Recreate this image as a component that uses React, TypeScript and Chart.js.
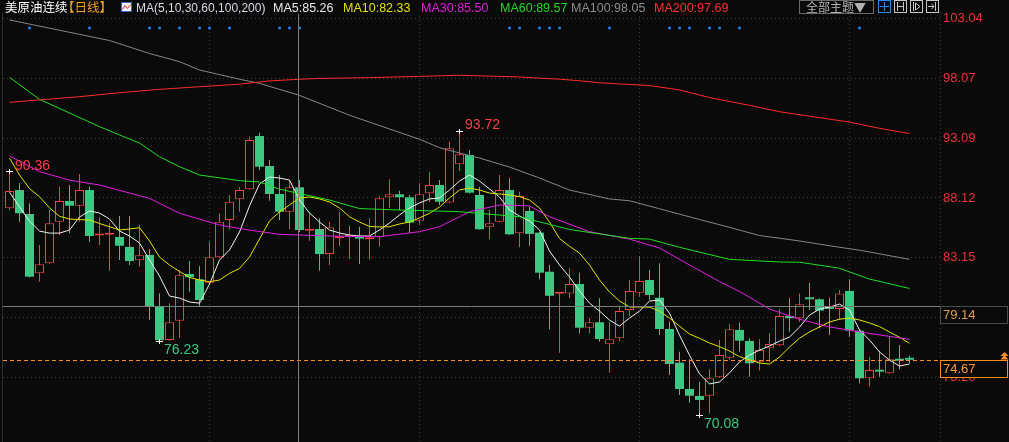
import React, { useEffect, useRef } from "react";
import { Chart, registerables } from "chart.js";

Chart.register(...registerables);

// ---- candle data (daily) ----
const opens = [
  87.26, 88.78, 86.79, 81.86, 82.69, 86.15, 87.87, 87.48, 88.78, 85.0,
  85.07, 84.88, 84.05, 82.94, 83.38, 79.08, 76.31, 77.92, 81.8, 81.36,
  81.08, 83.19, 86.29, 88.01, 88.84, 93.27, 90.78, 88.45, 86.98, 89.01,
  85.4, 85.54, 83.46, 84.77, 84.9, 84.9, 84.69, 84.9, 88.18, 88.43,
  88.18, 86.23, 88.51, 89.2, 87.75, 90.92, 91.69, 88.37, 85.73, 86.15,
  88.78, 85.18, 87.04, 85.24, 81.99, 80.15, 80.19, 80.97, 77.34, 77.79,
  75.96, 76.46, 78.81, 80.25, 81.3, 79.83, 77.23, 74.43, 72.24, 71.66,
  71.68, 73.21, 74.84, 77.15, 76.23, 74.51, 75.62, 75.87, 78.31, 78.12,
  79.83, 79.7, 78.98, 78.9, 80.39, 77.09, 73.13, 73.76, 73.55, 74.73,
  74.75,
];
const highs = [
  90.36, 89.34, 87.68, 84.21, 87.12, 89.06, 89.2, 90.11, 89.06, 86.51,
  86.07, 86.62, 86.62, 85.88, 83.86, 80.2, 79.37, 82.13, 82.88, 82.47,
  84.49, 86.85, 88.37, 89.01, 93.21, 93.55, 91.28, 90.03, 89.61, 89.61,
  86.98, 86.43, 86.15, 86.98, 85.79, 85.73, 86.43, 88.28, 89.67, 88.73,
  88.37, 89.34, 90.31, 89.61, 92.8, 93.72, 92.11, 89.06, 87.12, 90.03,
  89.75, 88.64, 87.39, 85.3, 82.55, 80.25, 82.27, 81.91, 78.12, 79.78,
  77.84, 79.08, 81.3, 83.3, 82.13, 82.69, 77.84, 75.34, 74.72, 72.85,
  73.88, 76.31, 77.64, 77.75, 76.46, 76.37, 76.87, 78.89, 79.78, 80.19,
  81.08, 79.78, 79.81, 80.47, 81.36, 77.2, 74.93, 75.42, 76.65, 75.9,
  75.0,
];
const lows = [
  87.1, 86.15, 81.5, 81.16, 82.63, 85.04, 85.18, 86.15, 84.49, 84.21,
  82.08, 82.96, 82.55, 82.41, 77.98, 76.23, 76.25, 76.51, 80.33, 79.14,
  80.95, 83.1, 85.52, 86.98, 88.8, 90.45, 87.89, 86.29, 85.52, 85.3,
  84.57, 82.08, 82.55, 84.13, 83.02, 82.63, 83.02, 84.07, 87.26, 87.12,
  85.24, 85.88, 87.81, 87.54, 87.7, 90.36, 88.5, 85.5, 84.69, 86.1,
  85.05, 84.02, 84.13, 81.36, 77.21, 75.26, 79.78, 76.87, 76.87, 76.17,
  73.6, 76.23, 78.31, 79.91, 79.64, 76.73, 73.41, 71.74, 71.1, 70.08,
  70.21, 73.15, 74.67, 75.34, 73.27, 73.77, 74.51, 75.8, 77.0, 77.84,
  78.81, 77.29, 76.73, 77.98, 76.59, 72.72, 72.44, 73.27, 73.5, 73.88,
  74.4,
];
const closes = [
  88.7, 86.85, 81.58, 82.61, 86.02, 87.87, 87.48, 88.78, 84.96, 85.13,
  85.21, 84.15, 82.88, 83.36, 79.14, 76.3, 77.79, 81.69, 81.53, 79.64,
  83.19, 86.15, 87.81, 88.78, 92.94, 90.72, 88.45, 86.98, 89.01, 85.46,
  85.54, 83.46, 85.68, 84.9, 85.02, 84.74, 84.85, 88.09, 88.43, 88.18,
  86.07, 88.43, 89.2, 87.81, 92.25, 91.75, 88.56, 85.52, 86.02, 88.78,
  85.1, 88.28, 85.13, 81.91, 79.99, 80.22, 80.97, 77.34, 77.79, 76.4,
  76.37, 78.73, 80.39, 81.22, 80.06, 77.23, 74.32, 72.24, 71.68, 71.33,
  73.13, 75.07, 77.2, 76.26, 74.38, 75.48, 75.98, 78.31, 78.12, 79.29,
  79.7, 78.76, 78.9, 80.19, 77.09, 73.13, 73.82, 73.68, 74.71, 74.59,
  74.67,
];

// ---- moving averages ----
const ma5 = [
  88.6, 87.39, 86.2, 85.37, 85.2, 85.2, 85.46, 86.54, 87.04, 86.87,
  86.37, 85.37, 84.96, 84.38, 82.96, 81.63, 79.97, 79.8, 79.47, 79.38,
  80.96, 82.96, 83.8, 85.29, 87.46, 89.28, 89.86, 89.78, 89.61, 87.95,
  86.87, 86.12, 85.46, 85.21, 85.04, 84.96, 84.96, 85.46, 86.04, 86.71,
  87.29, 87.71, 88.04, 88.12, 88.78, 89.53, 90.03, 89.53, 88.87, 88.2,
  87.12, 86.62, 86.21, 85.46, 83.71, 82.55, 81.55, 80.39, 79.38, 78.72,
  77.97, 77.47, 78.14, 78.72, 79.55, 79.64, 78.55, 76.72, 75.05, 73.5,
  72.66, 72.83, 73.58, 74.49, 75.05, 75.48, 75.81, 76.22, 76.56, 77.39,
  78.39, 78.88, 79.05, 79.3, 78.8, 77.15, 76.31, 75.32, 74.65, 74.15,
  74.32,
];
const ma10 = [
  91.44, 90.03, 88.9, 88.23, 87.3, 86.6, 86.37, 86.32, 86.29, 86.0,
  85.73, 85.46, 85.54, 85.65, 84.55, 83.21, 82.55, 82.01, 81.51, 81.3,
  81.16, 81.3, 81.86, 82.26, 83.21, 84.71, 86.21, 86.96, 87.54, 88.12,
  88.2, 88.04, 87.79, 87.29, 86.56, 86.12, 85.75, 85.71, 85.73, 85.96,
  86.12, 86.46, 86.85, 87.37, 88.12, 88.78, 88.95, 88.78, 88.53, 88.45,
  88.37, 88.23, 87.95, 87.29, 86.12, 84.75, 84.1, 83.54, 82.55, 81.3,
  80.31, 79.56, 79.06, 79.06, 79.04, 78.72, 78.14, 77.47, 76.81, 76.46,
  76.07, 75.76, 75.4, 74.93, 74.67, 74.4, 74.32, 74.9, 75.73, 76.46,
  76.98, 77.4, 77.81, 78.04, 78.14, 77.98, 77.73, 77.43, 76.98, 76.54,
  76.04,
];
const ma30Idx = [0, 3, 6, 9, 14, 17, 21, 24, 27, 32, 37, 41, 43, 45, 46, 49, 52, 54, 58, 62, 65, 68, 71, 73, 76, 79, 82, 86, 90];
const ma30Val = [91.61, 90.31, 89.6, 89.2, 88.09, 86.85, 85.88, 85.45, 85.1, 84.96, 84.9, 85.32, 85.73, 86.56, 86.98, 87.54, 87.46, 86.56, 85.32, 84.7, 83.96, 82.55, 81.18, 80.35, 78.89, 78.04, 77.4, 76.86, 76.37];
const ma60Idx = [0, 3, 9, 11, 13, 15, 17, 19, 23, 25, 27, 32, 35, 39, 45, 51, 56, 62, 64, 67, 72, 77, 79, 82, 83, 86, 90];
const ma60Val = [98.15, 96.32, 94.05, 93.36, 92.69, 91.55, 90.72, 90.03, 89.56, 89.45, 88.85, 87.95, 87.24, 87.12, 86.98, 86.56, 85.5, 84.77, 84.7, 84.02, 83.02, 82.8, 82.78, 82.41, 82.28, 81.38, 80.6];
const ma100Idx = [0, 10, 14, 17, 19, 23, 25, 29, 34, 41, 43, 45, 47, 50, 53, 56, 60, 62, 65, 69, 72, 75, 79, 82, 85, 90];
const ma100Val = [102.92, 101.21, 100.13, 99.45, 98.76, 97.99, 97.65, 96.65, 95.0, 93.0, 92.3, 91.86, 91.44, 90.69, 89.78, 88.78, 88.04, 87.89, 87.22, 86.33, 85.68, 85.0, 84.55, 84.15, 83.78, 83.02];
const ma200Idx = [0, 3, 7, 11, 15, 19, 23, 26, 29, 31, 36, 41, 45, 51, 53, 55, 57, 59, 61, 64, 67, 70, 74, 77, 80, 84, 87, 90];
const ma200Val = [96.07, 96.27, 96.54, 96.87, 97.15, 97.37, 97.58, 97.85, 97.99, 98.06, 98.12, 98.23, 98.32, 98.18, 98.08, 98.0, 97.86, 97.7, 97.6, 97.47, 97.1, 96.47, 95.82, 95.29, 94.92, 94.43, 93.91, 93.48];

// ---- axis / markers ----
const yTicks = [103.04, 98.07, 93.09, 88.12, 83.15, 78.18, 73.2];
const monthStartIdx = [20, 41, 63, 84];
const eventIdx = [2, 8, 14, 15, 17, 19, 20, 22, 27, 28, 29, 50, 51, 53, 54, 55, 60, 66, 67, 68, 70, 71, 73, 85];
const eventLevel = 102.25;
const highMarkIdx = [0, 45];
const lowMarkIdx = [15, 69];
const lastPrice = 74.67;
const cursorPrice = 79.14;
const cursorIdx = 28.9;
const headerItems = [
  { t: "美原油连续", c: "#ffffff", x: 5, f: "cjk" },
  { t: "【日线】", c: "#f0a028", x: 62, f: "cjk" },
  { t: "MA(5,10,30,60,100,200)", c: "#d6dbe6", x: 136, f: "small" },
  { t: "MA5:85.26", c: "#e8e8e8", x: 273, f: "latin" },
  { t: "MA10:82.33", c: "#e2e200", x: 343, f: "latin" },
  { t: "MA30:85.50", c: "#e01ee0", x: 421, f: "latin" },
  { t: "MA60:89.57", c: "#22d822", x: 500, f: "latin" },
  { t: "MA100:98.05", c: "#8c8c8c", x: 571, f: "latin" },
  { t: "MA200:97.69", c: "#ff3030", x: 654, f: "latin" },
];

const BG = "#0a0a0a";
const UP = "#ff3c48";
const DOWN = "#3cc882";
const GRID = "#3a3a3a";
const FONT = '"Liberation Sans", Arial, "Noto Sans CJK SC", sans-serif';
const CJK = '"Noto Sans CJK SC", "Liberation Sans", sans-serif';

const overlay = {
  id: "overlay",
  beforeDraw(chart: any) {
    const { ctx, width, height } = chart;
    ctx.save();
    ctx.fillStyle = BG;
    ctx.fillRect(0, 0, width, height);
    ctx.restore();
  },
  afterDatasetsDraw(chart: any) {
    const { ctx, chartArea: a, scales } = chart;
    const x = scales.x;
    const y = scales.y;
    ctx.save();
    ctx.strokeStyle = "#2e2e2e";
    ctx.lineWidth = 1;
    ctx.beginPath();
    ctx.moveTo(2.5, a.top);
    ctx.lineTo(2.5, a.bottom);
    ctx.stroke();
    ctx.setLineDash([1, 3]);
    ctx.strokeStyle = GRID;
    ctx.beginPath();
    ctx.moveTo(940.5, a.top);
    ctx.lineTo(940.5, a.bottom);
    ctx.stroke();
    const yl = Math.round(y.getPixelForValue(lastPrice)) + 0.5;
    ctx.setLineDash([4, 3]);
    ctx.strokeStyle = "#ff8c1a";
    ctx.beginPath();
    ctx.moveTo(a.left, yl);
    ctx.lineTo(a.right, yl);
    ctx.stroke();
    ctx.setLineDash([]);
    ctx.strokeStyle = "#7c7c7c";
    const cx = Math.round(x.getPixelForValue(cursorIdx)) + 0.5;
    const cy = Math.round(y.getPixelForValue(cursorPrice)) + 0.5;
    ctx.beginPath();
    ctx.moveTo(cx, 14);
    ctx.lineTo(cx, a.bottom);
    ctx.moveTo(a.left, cy);
    ctx.lineTo(a.right, cy);
    ctx.stroke();
    ctx.font = "14px " + FONT;
    const cross = (px: number, py: number) => {
      const xx = Math.floor(px) + 0.5;
      const yy = Math.round(py) + 0.5;
      ctx.strokeStyle = "#ffffff";
      ctx.beginPath();
      ctx.moveTo(xx - 3.5, yy);
      ctx.lineTo(xx + 3.5, yy);
      ctx.moveTo(xx, yy - 2.5);
      ctx.lineTo(xx, yy + 2.5);
      ctx.stroke();
    };
    ctx.textBaseline = "alphabetic";
    ctx.textAlign = "left";
    highMarkIdx.forEach((i) => {
      const px = x.getPixelForValue(i);
      const py = y.getPixelForValue(highs[i]);
      cross(px, py);
      ctx.fillStyle = UP;
      ctx.fillText(highs[i].toFixed(2), px + 5.5, py - 1.5);
    });
    lowMarkIdx.forEach((i) => {
      const px = x.getPixelForValue(i);
      const py = y.getPixelForValue(lows[i]);
      cross(px, py);
      ctx.fillStyle = DOWN;
      ctx.fillText(lows[i].toFixed(2), px + 4.5, py + 13);
    });
    ctx.restore();
  },
  afterDraw(chart: any) {
    const { ctx, scales } = chart;
    const y = scales.y;
    ctx.save();
    const box = (v: number, border: string, color: string) => {
      const yy = Math.round(y.getPixelForValue(v));
      ctx.fillStyle = BG;
      ctx.fillRect(940, yy, 69, 18);
      ctx.strokeStyle = border;
      ctx.lineWidth = 1;
      ctx.strokeRect(940.5, yy + 0.5, 67, 17);
      ctx.fillStyle = color;
      ctx.font = "13px " + FONT;
      ctx.textBaseline = "middle";
      ctx.textAlign = "left";
      ctx.fillText(v.toFixed(2), 943, yy + 9.5);
      return yy;
    };
    box(cursorPrice, "#4a4a4a", "#e09a50");
    const yl = box(lastPrice, "#ff9020", "#ff9a2a");
    ctx.fillStyle = "#ff9020";
    ctx.beginPath();
    ctx.moveTo(1004.5, yl - 8);
    ctx.lineTo(1000.5, yl - 4);
    ctx.lineTo(1008.5, yl - 4);
    ctx.closePath();
    ctx.moveTo(1004.5, yl - 5);
    ctx.lineTo(1000.5, yl - 0.5);
    ctx.lineTo(1008.5, yl - 0.5);
    ctx.closePath();
    ctx.fill();

    ctx.fillStyle = BG;
    ctx.fillRect(0, 0, 940, 13);
    ctx.textBaseline = "alphabetic";
    ctx.textAlign = "left";
    headerItems.forEach((h) => {
      ctx.font = h.f === "cjk" ? "12.5px " + CJK : h.f === "small" ? "12px " + FONT : "12.5px " + FONT;
      ctx.fillStyle = h.c;
      ctx.fillText(h.t, h.x, 12);
    });
    ctx.fillStyle = "#f4f4f8";
    ctx.fillRect(121, 2, 11, 10);
    ctx.strokeStyle = "#3a60c8";
    ctx.strokeRect(121.5, 2.5, 10, 9);
    ctx.strokeStyle = "#e02828";
    ctx.beginPath();
    ctx.moveTo(122.5, 9.5);
    ctx.lineTo(125, 5.5);
    ctx.lineTo(127.5, 8.5);
    ctx.lineTo(130.5, 4.5);
    ctx.stroke();
    ctx.strokeStyle = "#6a6a6a";
    ctx.strokeRect(799.5, 0.5, 74, 13);
    ctx.fillStyle = "#b4b4b4";
    ctx.font = "12px " + CJK;
    ctx.fillText("全部主题▼", 806, 11.5);
    const icons = [878, 894, 910, 926];
    icons.forEach((ix, k) => {
      ctx.strokeStyle = k === 0 ? "#2f8be0" : "#c8c8c8";
      ctx.strokeRect(ix + 0.5, 0.5, 12, 12);
      ctx.beginPath();
      if (k === 0) {
        ctx.moveTo(ix + 6.5, 2);
        ctx.lineTo(ix + 6.5, 11);
        ctx.moveTo(ix + 2, 6.5);
        ctx.lineTo(ix + 11, 6.5);
      } else if (k === 1) {
        ctx.moveTo(ix + 3.5, 2);
        ctx.lineTo(ix + 3.5, 11);
        ctx.moveTo(ix + 9.5, 2);
        ctx.lineTo(ix + 9.5, 11);
        ctx.moveTo(ix + 3.5, 6.5);
        ctx.lineTo(ix + 9.5, 6.5);
      } else if (k === 2) {
        ctx.moveTo(ix + 3.5, 2);
        ctx.lineTo(ix + 3.5, 11);
        ctx.moveTo(ix + 5.5, 3);
        ctx.lineTo(ix + 10, 6.5);
        ctx.lineTo(ix + 5.5, 10);
        ctx.closePath();
      } else {
        ctx.moveTo(ix + 9.5, 2);
        ctx.lineTo(ix + 9.5, 11);
        ctx.moveTo(ix + 2, 6.5);
        ctx.lineTo(ix + 8, 6.5);
        ctx.moveTo(ix + 5.5, 4);
        ctx.lineTo(ix + 8, 6.5);
        ctx.lineTo(ix + 5.5, 9);
      }
      ctx.stroke();
    });
    ctx.restore();
  },
};

export default function App() {
  const ref = useRef<HTMLCanvasElement>(null);
  useEffect(() => {
    document.body.style.margin = "0";
    document.body.style.background = BG;
    const canvas = ref.current as HTMLCanvasElement;
    const idx = opens.map((_, i) => i);
    const up = idx.map((i) => closes[i] >= opens[i]);
    const line = (label: string, xs: number[], vs: number[], color: string) => ({
      type: "line",
      label,
      data: vs.map((v, k) => ({ x: xs[k], y: v })),
      borderColor: color,
      borderWidth: 1,
      pointRadius: 0,
      fill: false,
      tension: 0,
      order: 1,
    });
    const chart = new Chart(canvas, {
      type: "bar",
      data: {
        datasets: [
          {
            type: "bar",
            label: "wick",
            data: idx.map((i) => ({ x: i, y: [lows[i], highs[i]] })),
            backgroundColor: idx.map((i) => (up[i] ? UP : DOWN)),
            borderWidth: 0,
            barThickness: 1,
            grouped: false,
            inflateAmount: 0,
            order: 5,
          },
          {
            type: "bar",
            label: "body",
            data: idx.map((i) => ({ x: i, y: [opens[i], closes[i]] })),
            backgroundColor: idx.map((i) => (up[i] ? BG : DOWN)),
            borderColor: idx.map((i) => (up[i] ? UP : DOWN)),
            borderWidth: idx.map((i) => (up[i] ? 1 : 0)),
            borderSkipped: false,
            barThickness: 9,
            minBarLength: 2,
            grouped: false,
            inflateAmount: 0,
            order: 4,
          },
          line("MA200", ma200Idx, ma200Val, "#ff2a2a"),
          line("MA100", ma100Idx, ma100Val, "#868686"),
          line("MA60", ma60Idx, ma60Val, "#22dd22"),
          line("MA30", ma30Idx, ma30Val, "#e41ee4"),
          line("MA10", idx, ma10, "#e6e600"),
          line("MA5", idx, ma5, "#f2f2f2"),
          {
            type: "line",
            label: "events",
            data: eventIdx.map((i) => ({ x: i, y: eventLevel })),
            showLine: false,
            pointRadius: 1.6,
            pointBorderWidth: 0,
            pointBackgroundColor: "#1f7fe0",
            order: 0,
          },
        ] as any,
      },
      options: {
        responsive: false,
        animation: false,
        events: [],
        layout: { padding: { left: 3, top: 12, right: 0, bottom: 0 }, autoPadding: false },
        plugins: { legend: { display: false }, tooltip: { enabled: false } },
        scales: {
          x: {
            type: "linear",
            position: "bottom",
            min: -0.65,
            max: 93.05,
            offset: false,
            bounds: "data",
            afterBuildTicks: (s: any) => {
              s.ticks = monthStartIdx.map((v) => ({ value: v }));
            },
            afterFit: (s: any) => {
              s.height = 0;
              s.paddingLeft = 0;
              s.paddingRight = 0;
            },
            ticks: { display: false },
            grid: { color: GRID, drawTicks: false, offset: false, lineWidth: 1 },
            border: { display: false, dash: [1, 3] },
          },
          y: {
            type: "linear",
            position: "right",
            min: 67.836,
            max: 103.58,
            bounds: "data",
            afterBuildTicks: (s: any) => {
              s.ticks = yTicks.map((v) => ({ value: v }));
            },
            afterFit: (s: any) => {
              s.width = 69;
              s.paddingTop = 0;
              s.paddingBottom = 0;
            },
            ticks: {
              color: "#f0323c",
              font: { family: FONT, size: 13 },
              padding: 3,
              autoSkip: false,
              callback: (v: any) => Number(v).toFixed(2),
            },
            grid: { color: GRID, drawTicks: false, lineWidth: 1 },
            border: { display: false, dash: [1, 3] },
          },
        },
      } as any,
      plugins: [overlay as any],
    });
    return () => chart.destroy();
  }, []);
  return <canvas ref={ref} width={1009} height={442} style={{ display: "block" }} />;
}
